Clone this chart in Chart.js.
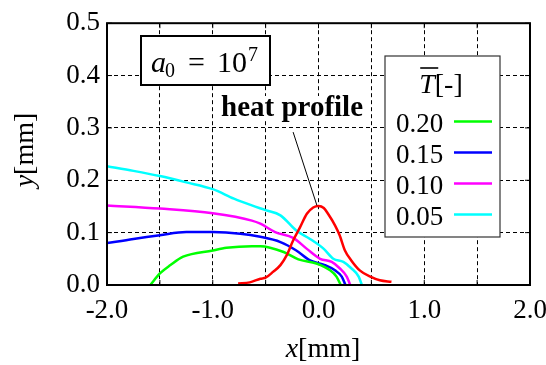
<!DOCTYPE html>
<html>
<head>
<meta charset="utf-8">
<script src="https://cdn.jsdelivr.net/npm/chart.js@4.4.0/dist/chart.umd.min.js"></script>
<style>
    body { margin: 0; background: #fff; }
</style>
</head>
<body>
<canvas id="profile-chart" width="546" height="365"></canvas>
<script>
// values, x and y in mm
const heatX = [-0.76, -0.65, -0.55, -0.50, -0.43, -0.36, -0.30, -0.24, -0.175, -0.11, -0.05, 0.0, 0.05, 0.09, 0.156, 0.20, 0.25, 0.31, 0.39, 0.49, 0.58, 0.69]
const heatY = [0.003, 0.005, 0.012, 0.014, 0.025, 0.038, 0.057, 0.085, 0.110, 0.136, 0.148, 0.151, 0.147, 0.136, 0.114, 0.095, 0.066, 0.047, 0.028, 0.016, 0.009, 0.006]

const t020X = [-1.59, -1.50, -1.40, -1.28, -1.00, -0.87, -0.63, -0.55, -0.33, -0.19, -0.02, 0.11, 0.17, 0.21]
const t020Y = [0.0, 0.022, 0.038, 0.054, 0.066, 0.071, 0.074, 0.074, 0.063, 0.049, 0.041, 0.028, 0.016, 0.0]

const t015X = [-2.0, -1.75, -1.50, -1.25, -1.00, -0.74, -0.55, -0.36, -0.21, -0.08, 0.06, 0.156, 0.22, 0.255]
const t015Y = [0.080, 0.088, 0.095, 0.101, 0.101, 0.098, 0.092, 0.082, 0.066, 0.047, 0.038, 0.028, 0.016, 0.0]

const t010X = [-2.0, -1.50, -1.00, -0.63, -0.55, -0.41, -0.24, -0.11, 0.015, 0.125, 0.20, 0.267, 0.30]
const t010Y = [0.152, 0.146, 0.137, 0.123, 0.117, 0.101, 0.090, 0.069, 0.050, 0.044, 0.032, 0.016, 0.0]

const t005X = [-2.0, -1.75, -1.50, -1.25, -1.00, -0.80, -0.63, -0.50, -0.36, -0.21, -0.08, 0.05, 0.14, 0.235, 0.31, 0.38, 0.41]
const t005Y = [0.227, 0.218, 0.208, 0.196, 0.183, 0.165, 0.152, 0.143, 0.133, 0.104, 0.088, 0.069, 0.050, 0.044, 0.032, 0.016, 0.0]

const legendLabels = ['0.20', '0.15', '0.10', '0.05']
const xTickLabels = [-2, -1, 0, 1, 2]

const SERIF = '"Liberation Serif", "Times New Roman", serif'

function pts(xs, ys) {
    return xs.map((x, i) => ({x: x, y: ys[i]}))
}

function line(label, color, data, order) {
    return {
        label: label,
        data: data,
        borderColor: color,
        backgroundColor: color,
        borderWidth: 2.5,
        pointRadius: 0,
        cubicInterpolationMode: 'monotone',
        fill: false,
        order: order
    }
}

// text pieces drawn one after another: [text, font, dy]
function drawRuns(ctx, runs, x, y) {
    runs.forEach(r => {
        ctx.font = r[1]
        ctx.fillText(r[0], x, y + (r[2] || 0))
        x += ctx.measureText(r[0]).width
    })
}

function runsWidth(ctx, runs) {
    let w = 0
    runs.forEach(r => { ctx.font = r[1]; w += ctx.measureText(r[0]).width })
    return w
}

// start: frame + inside ticks
const framePlugin = {
    id: 'frame',
    afterDraw(chart) {
        const {ctx, chartArea: a, scales: {x, y}} = chart
        ctx.save()
        ctx.strokeStyle = '#000'
        ctx.setLineDash([])
        ctx.lineWidth = 1
        ctx.beginPath()
        x.ticks.forEach(t => {
            const px = x.getPixelForValue(t.value)
            ctx.moveTo(px, a.bottom); ctx.lineTo(px, a.bottom - 5)
            ctx.moveTo(px, a.top); ctx.lineTo(px, a.top + 5)
        })
        y.ticks.forEach(t => {
            const py = y.getPixelForValue(t.value)
            ctx.moveTo(a.left, py); ctx.lineTo(a.left + 5, py)
            ctx.moveTo(a.right, py); ctx.lineTo(a.right - 5, py)
        })
        ctx.stroke()
        ctx.lineWidth = 2
        ctx.strokeRect(a.left, a.top, a.right - a.left, a.bottom - a.top)
        ctx.restore()
    }
}

// start: labels, boxes and legend
const notesPlugin = {
    id: 'notes',
    afterDraw(chart) {
        const {ctx, chartArea: a, scales: {x, y}} = chart
        ctx.save()
        ctx.fillStyle = '#000'
        ctx.textBaseline = 'alphabetic'
        ctx.textAlign = 'left'

        // axis titles
        const xt = [['x', 'italic 28px ' + SERIF], ['[mm]', '28px ' + SERIF]]
        drawRuns(ctx, xt, 323 - runsWidth(ctx, xt) / 2, 357)
        const yt = [['y', 'italic 28px ' + SERIF], ['[mm]', '28px ' + SERIF]]
        ctx.save()
        ctx.translate(33, 150)
        ctx.rotate(-Math.PI / 2)
        drawRuns(ctx, yt, -runsWidth(ctx, yt) / 2, 0)
        ctx.restore()

        // a0 box
        ctx.fillStyle = '#fff'
        ctx.fillRect(141, 36, 129, 49)
        ctx.strokeStyle = '#000'
        ctx.lineWidth = 2
        ctx.strokeRect(141, 36, 129, 49)
        ctx.fillStyle = '#000'
        ctx.font = 'italic 30px ' + SERIF
        ctx.fillText('a', 151, 72)
        ctx.font = '20px ' + SERIF
        ctx.fillText('0', 165, 77)
        ctx.font = '30px ' + SERIF
        ctx.fillText('=', 188, 72)
        ctx.fillText('10', 217, 72)
        ctx.font = '20px ' + SERIF
        ctx.fillText('7', 248, 61)

        // heat profile label with pointer to the peak
        ctx.strokeStyle = '#000'
        ctx.lineWidth = 1
        ctx.beginPath()
        ctx.moveTo(x.getPixelForValue(-0.24), y.getPixelForValue(0.292))
        ctx.lineTo(x.getPixelForValue(-0.015), y.getPixelForValue(0.152))
        ctx.stroke()
        ctx.fillStyle = '#fff'
        ctx.fillRect(214, 96, 155, 25)
        ctx.fillStyle = '#000'
        ctx.font = 'bold 29px ' + SERIF
        ctx.fillText('heat profile', 221, 116)

        // legend
        ctx.fillStyle = '#fff'
        ctx.fillRect(385, 56, 115, 181)
        ctx.strokeStyle = '#333'
        ctx.lineWidth = 1.2
        ctx.strokeRect(385, 56, 115, 181)
        ctx.fillStyle = '#000'
        const tt = [['T', 'italic 28px ' + SERIF], ['[-]', '28px ' + SERIF]]
        const tx = 441 - runsWidth(ctx, tt) / 2
        drawRuns(ctx, tt, tx, 93)
        ctx.lineWidth = 2
        ctx.beginPath()
        ctx.moveTo(tx + 1, 68); ctx.lineTo(tx + 19, 68)
        ctx.stroke()

        const sets = chart.data.datasets.filter(d => legendLabels.includes(d.label))
        sets.forEach((d, i) => {
            const cy = 121.5 + i * 31
            ctx.fillStyle = '#000'
            ctx.font = '27px ' + SERIF
            ctx.fillText(d.label, 396, cy + 10)
            ctx.strokeStyle = d.borderColor
            ctx.lineWidth = 2.5
            ctx.beginPath()
            ctx.moveTo(454, cy); ctx.lineTo(492, cy)
            ctx.stroke()
        })
        ctx.restore()
    }
}

const profileChart = new Chart(document.getElementById('profile-chart'), {
    type: 'line',
    data: {
        datasets: [
            line('heat profile', '#ff0000', pts(heatX, heatY), 0),
            line(legendLabels[0], '#00ff00', pts(t020X, t020Y), 1),
            line(legendLabels[1], '#0000ff', pts(t015X, t015Y), 2),
            line(legendLabels[2], '#ff00ff', pts(t010X, t010Y), 3),
            line(legendLabels[3], '#00ffff', pts(t005X, t005Y), 4)
        ]
    },
    options: {
        responsive: false,
        animation: false,
        layout: {
            padding: {top: 21, right: 16, left: 0, bottom: 0}
        },
        plugins: {
            legend: { display: false },
            tooltip: { enabled: false }
        },
        scales: {
            x: {
                type: 'linear',
                min: -2,
                max: 2,
                afterFit: function(scale) {
                    scale.height = 80
                    scale.paddingRight = 16
                    scale.paddingLeft = 0
                },
                grid: { color: '#000', lineWidth: 1, drawTicks: false },
                border: { display: false, dash: [4, 3] },
                ticks: {
                    stepSize: 0.5,
                    autoSkip: false,
                    maxRotation: 0,
                    padding: 10,
                    color: '#000',
                    font: { family: SERIF, size: 27 },
                    callback: v => xTickLabels.includes(v) ? v.toFixed(1) : ''
                }
            },
            y: {
                min: 0,
                max: 0.5,
                afterFit: function(scale) { scale.width = 107 },
                grid: { color: '#000', lineWidth: 1, drawTicks: false },
                border: { display: false, dash: [4, 3] },
                ticks: {
                    stepSize: 0.1,
                    padding: 7,
                    color: '#000',
                    font: { family: SERIF, size: 27 },
                    callback: v => v.toFixed(1)
                }
            }
        }
    },
    plugins: [framePlugin, notesPlugin]
})
</script>
</body>
</html>
